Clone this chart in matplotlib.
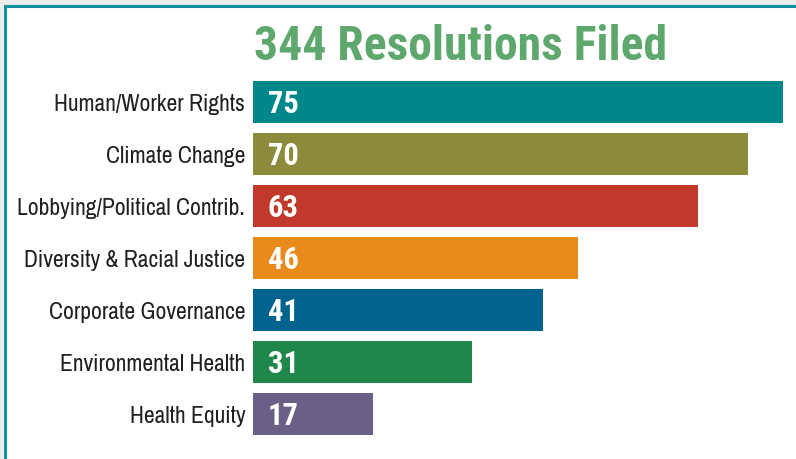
import matplotlib
matplotlib.use("Agg")
import matplotlib.pyplot as plt
from matplotlib.patches import Rectangle

categories = ["Human/Worker Rights", "Climate Change", "Lobbying/Political Contrib.",
              "Diversity & Racial Justice", "Corporate Governance",
              "Environmental Health", "Health Equity"]
values = [75, 70, 63, 46, 41, 31, 17]
colors = ["#00878A", "#8C8A3B", "#C0392A", "#E88A1C", "#00628F", "#1E8749", "#6A5F87"]
title = "344 Resolutions Filed"

fam = ["Archivo Narrow", "Roboto Condensed", "DejaVu Sans"]
fam_bold = ["Roboto Condensed", "PT Sans Narrow", "DejaVu Sans"]

fig = plt.figure(figsize=(7.96, 4.6), dpi=100)
fig.patch.set_facecolor("white")

# frame: light shadow plus teal border on top and left
fig.patches.append(Rectangle((0, 1 - 6 / 460), 1, 6 / 460, transform=fig.transFigure,
                             facecolor="#ececec", edgecolor="none", zorder=0))
fig.patches.append(Rectangle((0, 0), 3 / 796, 1, transform=fig.transFigure,
                             facecolor="#ececec", edgecolor="none", zorder=0))
fig.add_artist(plt.Line2D([4.5 / 796, 1], [1 - 7 / 460, 1 - 7 / 460],
                          transform=fig.transFigure, color="#1590A0", lw=2.2))
fig.add_artist(plt.Line2D([4.5 / 796, 4.5 / 796], [0, 1 - 7 / 460],
                          transform=fig.transFigure, color="#1590A0", lw=2.2))

ax = fig.add_axes([253 / 796, 1 - 441 / 460, 530 / 796, 364 / 460])
y = list(range(len(values)))
ax.barh(y, values, height=0.8, color=colors)
ax.set_xlim(0, 75)
ax.set_ylim(len(values) - 0.5, -0.5)
ax.axis("off")

for i, v in enumerate(values):
    ax.text(2.1, i + 0.02, str(v), color="white", fontsize=22, fontweight="bold",
            family=fam_bold, va="center", ha="left")
    ax.text(-1.1, i + 0.02, categories[i], color="#231F20", fontsize=17,
            family=fam, va="center", ha="right")

fig.text(461 / 796, 1 - 47 / 460, title, color="#5FA86D", fontsize=34.3,
         fontweight="bold", family=fam_bold, ha="center", va="center")

fig.savefig("out.png", dpi=100)
